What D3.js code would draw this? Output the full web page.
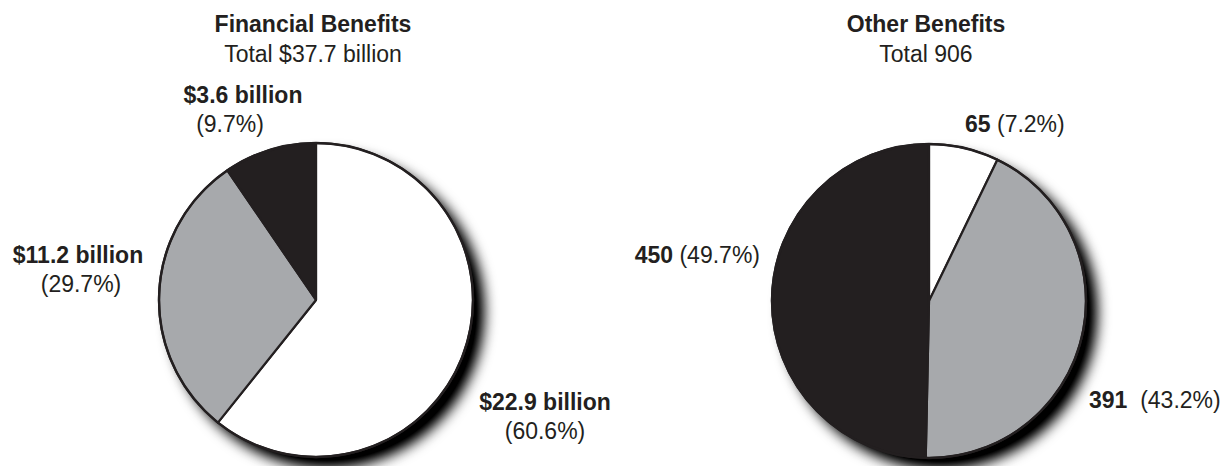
<!DOCTYPE html>
<html>
<head>
<meta charset="utf-8">
<script src="https://cdn.jsdelivr.net/npm/d3@7"></script>
<style>
  html, body { margin: 0; padding: 0; background: #fff; }
  svg { display: block; font-family: "Liberation Sans", Arial, Helvetica, sans-serif; }
</style>
</head>
<body>
<svg id="chart" width="1228" height="466"></svg>
<script>
// ---- data ----
const finTitle = "Financial Benefits";
const finSubtitle = "Total $37.7 billion";
const finLabels = ["$22.9 billion", "$11.2 billion", "$3.6 billion"];
const finValues = [22.9, 11.2, 3.6];
const finPercents = ["(60.6%)", "(29.7%)", "(9.7%)"];

const othTitle = "Other Benefits";
const othSubtitle = "Total 906";
const othLabels = ["65", "391", "450"];
const othValues = [65, 391, 450];
const othPercents = ["(7.2%)", "(43.2%)", "(49.7%)"];

// ---- styles ----
const sliceColors = ["#ffffff", "#a7a9ac", "#231f20"];
const inkColor = "#231f20";
const fontSize = 23;
const radius = 157;

const svg = d3.select("#chart");
const defs = svg.append("defs");
const filt = defs.append("filter").attr("id", "shadow")
  .attr("x", "-20%").attr("y", "-20%").attr("width", "150%").attr("height", "150%");
filt.append("feGaussianBlur").attr("in", "SourceAlpha").attr("stdDeviation", 7).attr("result", "b");
filt.append("feOffset").attr("in", "b").attr("dx", 11).attr("dy", 11).attr("result", "o");
filt.append("feComponentTransfer").attr("in", "o")
  .append("feFuncA").attr("type", "linear").attr("slope", 1.15);

const pie = d3.pie().sort(null).value(d => d);
const arc = d3.arc().innerRadius(0).outerRadius(radius);

function drawPie(cx, cy, values, title, subtitle) {
  const g = svg.append("g").attr("transform", `translate(${cx},${cy})`);
  g.append("circle").attr("r", radius).attr("fill", "#000").attr("filter", "url(#shadow)");
  g.selectAll("path.slice").data(pie(values)).join("path")
    .attr("class", "slice")
    .attr("d", arc)
    .attr("fill", (d, i) => sliceColors[i])
    .attr("stroke", inkColor)
    .attr("stroke-width", 2.2)
    .attr("stroke-linejoin", "round");
  g.append("circle").attr("r", radius).attr("fill", "none")
    .attr("stroke", inkColor).attr("stroke-width", 2.4);

  svg.append("text").attr("x", cx - 3).attr("y", 32).attr("text-anchor", "middle")
    .attr("font-size", fontSize).attr("font-weight", "bold").attr("fill", inkColor).text(title);
  svg.append("text").attr("x", cx - 3).attr("y", 62).attr("text-anchor", "middle")
    .attr("font-size", fontSize).attr("fill", inkColor).text(subtitle);
  return g;
}

// Left pie
const lcx = 316, lcy = 300;
drawPie(lcx, lcy, finValues, finTitle, finSubtitle);
// label offsets relative to the pie center: [name dx, dy, percent dx]
const finLabelPos = [[229, 110, 229], [-238, -37, -235], [-73, -197, -86]];
finLabels.forEach((lab, i) => {
  const [dx, dy, pdx] = finLabelPos[i];
  svg.append("text").attr("x", lcx + dx).attr("y", lcy + dy).attr("text-anchor", "middle")
    .attr("font-size", fontSize).attr("font-weight", "bold").attr("fill", inkColor).text(lab);
  svg.append("text").attr("x", lcx + pdx).attr("y", lcy + dy + 29).attr("text-anchor", "middle")
    .attr("font-size", fontSize).attr("fill", inkColor).text(finPercents[i]);
});

// Right pie
const rcx = 929, rcy = 301;
drawPie(rcx, rcy, othValues, othTitle, othSubtitle);
const othLabelPos = [[36, -169, "start", " "], [160, 107, "start", "\u00a0\u00a0"], [-169, -38, "end", " "]];
othLabels.forEach((lab, i) => {
  const [dx, dy, anchor, gap] = othLabelPos[i];
  const t = svg.append("text").attr("x", rcx + dx).attr("y", rcy + dy).attr("text-anchor", anchor)
    .attr("font-size", fontSize).attr("fill", inkColor).attr("xml:space", "preserve");
  t.append("tspan").attr("font-weight", "bold").text(lab);
  t.append("tspan").text(gap + othPercents[i]);
});
</script>
</body>
</html>
